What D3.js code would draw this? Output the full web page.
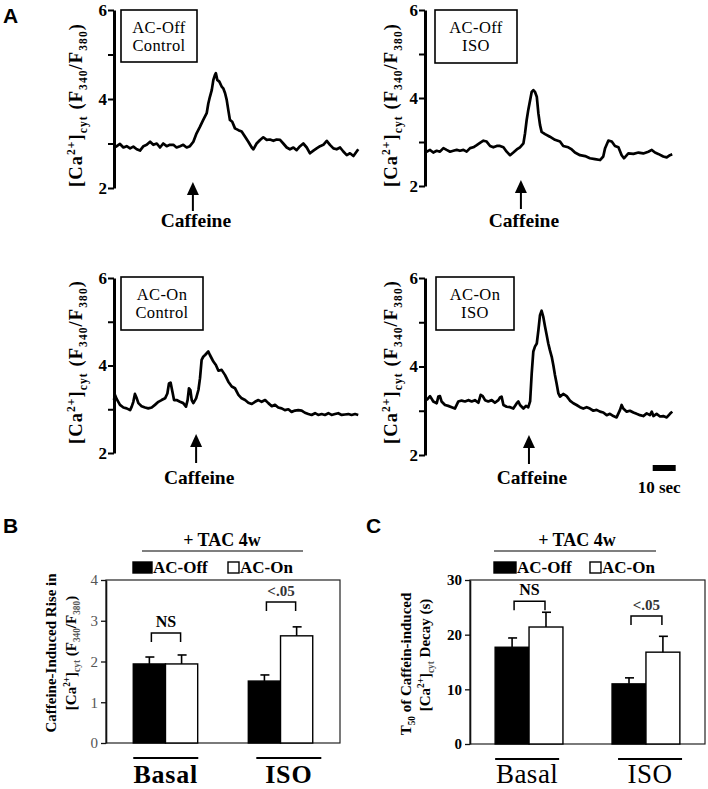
<!DOCTYPE html>
<html><head><meta charset="utf-8">
<script src="https://cdn.jsdelivr.net/npm/d3@7"></script>
<style>body{margin:0;background:#fff}svg{display:block}</style>
</head><body>
<svg id="c" width="708" height="789"></svg>
<script>
// ---------- DATA ----------
// Panel A traces: [time (s), [Ca2+]cyt ratio F340/F380]
const traceOffControl = [[0,2.91],[1.2,2.94],[2.6,2.99],[4.1,2.91],[5.5,2.94],[7.0,2.89],[8.4,2.93],[9.9,2.87],[11.3,2.84],[12.8,2.94],[14.2,2.97],[15.7,3.04],[17.1,2.97],[18.6,3.00],[20.0,2.91],[21.4,3.00],[22.9,2.94],[24.3,2.97],[25.8,2.97],[27.2,2.91],[28.7,2.94],[30.1,2.97],[31.6,2.91],[33.0,2.94],[34.5,3.04],[35.9,3.23],[37.4,3.38],[38.8,3.53],[40.3,3.68],[41.0,3.90],[41.7,4.05],[42.5,4.20],[43.2,4.43],[43.9,4.54],[44.3,4.58],[44.9,4.43],[45.8,4.39],[46.8,4.28],[47.5,4.24],[48.3,4.13],[49.0,3.98],[49.7,3.75],[50.4,3.53],[51.4,3.49],[52.6,3.34],[54.1,3.30],[55.5,3.27],[57.0,3.15],[58.4,3.04],[59.9,2.91],[60.6,2.87],[62.0,3.00],[63.5,3.08],[64.9,3.14],[66.4,3.08],[67.8,3.09],[69.3,3.06],[70.7,3.09],[72.2,3.08],[73.6,3.00],[75.1,2.91],[76.5,2.87],[78.0,2.91],[79.4,2.85],[80.9,2.94],[82.3,3.00],[83.8,2.91],[85.2,2.78],[86.7,2.84],[88.1,2.89],[89.6,2.94],[91.0,2.97],[92.5,3.06],[93.9,2.97],[95.4,2.89],[96.8,2.87],[98.3,2.91],[99.7,2.82],[101.2,2.74],[102.6,2.78],[104.1,2.72],[105.5,2.82],[106.2,2.87]];
const traceOffISO = [[0.7,2.78],[2.2,2.82],[3.6,2.76],[5.1,2.80],[6.5,2.78],[8.0,2.86],[9.4,2.82],[10.9,2.78],[12.3,2.80],[13.8,2.82],[15.2,2.80],[16.7,2.82],[18.1,2.78],[19.6,2.86],[21.0,2.88],[22.5,2.93],[23.9,2.98],[25.4,3.03],[26.8,3.01],[28.3,2.91],[29.7,2.88],[31.2,2.91],[32.6,2.91],[34.1,2.88],[35.5,2.78],[37.0,2.70],[38.4,2.76],[39.9,2.83],[41.3,2.88],[42.8,2.97],[43.5,3.20],[44.2,3.50],[44.9,3.73],[45.7,3.95],[46.4,4.14],[47.1,4.18],[47.8,4.14],[48.6,4.03],[49.3,3.65],[50.0,3.39],[50.7,3.23],[52.2,3.18],[54.3,3.12],[56.5,3.05],[58.7,3.01],[60.1,2.91],[62.3,2.88],[63.8,2.83],[65.2,2.76],[67.4,2.70],[69.6,2.68],[71.7,2.63],[73.9,2.61],[76.1,2.59],[77.5,2.67],[78.3,2.86],[79.7,3.03],[81.2,3.01],[82.6,2.91],[84.1,2.88],[85.5,2.70],[86.5,2.63],[88.4,2.74],[90.6,2.73],[92.8,2.76],[94.9,2.74],[97.1,2.78],[98.6,2.82],[100.0,2.76],[101.4,2.73],[103.6,2.67],[105.1,2.65],[106.5,2.70],[107.5,2.72]];
const traceOnControl = [[0,3.21],[0.4,3.33],[1.2,3.23],[2.6,3.10],[4.1,3.04],[5.5,3.02],[7.0,2.98],[7.7,3.06],[8.4,3.17],[9.1,3.35],[9.9,3.25],[10.6,3.14],[12.0,3.07],[13.5,3.04],[14.9,3.02],[16.4,3.04],[17.8,3.10],[19.3,3.17],[20.7,3.21],[22.2,3.25],[23.2,3.36],[23.9,3.59],[24.6,3.61],[25.4,3.40],[26.1,3.21],[27.2,3.21],[28.7,3.17],[30.1,3.14],[31.3,3.06],[32.0,3.21],[32.6,3.48],[33.2,3.44],[33.8,3.21],[34.5,3.14],[35.7,3.25],[36.7,3.44],[37.4,3.71],[38.1,4.13],[38.8,4.20],[39.6,4.24],[40.3,4.28],[41.0,4.32],[41.7,4.24],[42.5,4.16],[43.2,4.09],[44.3,4.01],[45.4,3.88],[46.8,3.90],[48.3,3.78],[49.7,3.63],[51.2,3.52],[52.6,3.48],[54.1,3.33],[55.5,3.25],[57.0,3.21],[58.4,3.15],[59.9,3.12],[61.3,3.17],[62.8,3.21],[64.2,3.17],[65.7,3.21],[67.1,3.14],[68.6,3.07],[70.0,3.10],[71.4,3.04],[72.9,3.02],[74.3,2.98],[75.8,3.00],[77.2,2.94],[78.7,2.97],[80.1,2.98],[81.6,2.97],[83.0,2.92],[84.5,2.89],[85.9,2.87],[87.4,2.91],[88.8,2.87],[90.3,2.89],[91.7,2.87],[93.2,2.91],[94.6,2.87],[96.1,2.89],[97.5,2.91],[99.0,2.87],[100.4,2.88],[101.9,2.89],[103.3,2.87],[104.8,2.89],[106.2,2.87]];
const traceOnISO = [[0.7,3.24],[2.2,3.33],[3.6,3.21],[5.1,3.17],[5.8,3.32],[6.5,3.33],[7.2,3.21],[8.7,3.13],[10.1,3.11],[11.6,3.08],[13.0,3.05],[14.5,3.21],[15.9,3.23],[17.4,3.21],[18.8,3.24],[20.3,3.21],[21.7,3.24],[23.2,3.18],[24.2,3.36],[25.1,3.33],[26.1,3.24],[27.5,3.21],[29.0,3.24],[30.4,3.18],[31.9,3.24],[32.6,3.30],[33.3,3.32],[34.1,3.13],[35.5,3.09],[37.0,3.08],[38.4,3.05],[39.9,3.17],[40.6,3.21],[41.3,3.13],[42.8,3.05],[43.9,3.11],[44.9,3.08],[45.7,3.21],[46.4,3.85],[47.1,4.34],[47.8,4.45],[48.6,4.52],[49.3,4.82],[50.0,5.16],[50.7,5.26],[51.4,5.13],[52.2,4.90],[52.9,4.71],[53.6,4.52],[54.3,4.37],[55.1,4.22],[55.8,4.03],[56.5,3.81],[57.2,3.62],[58.0,3.39],[58.7,3.32],[60.1,3.38],[61.6,3.33],[63.0,3.23],[64.5,3.17],[65.9,3.13],[67.4,3.08],[68.8,3.05],[70.3,3.08],[71.7,3.05],[73.2,3.00],[74.6,3.02],[76.1,2.98],[77.5,2.96],[79.0,2.90],[80.4,2.93],[81.9,2.88],[83.3,2.85],[84.8,3.02],[85.5,3.13],[86.2,3.05],[87.7,2.98],[89.1,3.00],[90.6,2.96],[92.0,2.93],[93.5,2.90],[94.9,2.88],[96.4,2.94],[97.8,2.90],[98.6,2.98],[99.3,2.88],[100.7,2.93],[102.2,2.87],[103.6,2.88],[105.1,2.85],[106.5,2.93],[107.5,2.98]];
const caffeineTimes = [34.3, 41.7, 35.7, 45.2];
const boxLabels = [["AC-Off","Control"],["AC-Off","ISO"],["AC-On","Control"],["AC-On","ISO"]];
const traceTicks = [2,3,4,5,6];
const traceTickLabels = [2,4,6];
const scaleBarSec = 10;
const scaleBarStart = 99;

// Panels B & C
const groups = ["Basal","ISO"];
const series = ["AC-Off","AC-On"];
const riseOff = [1.94, 1.52];
const riseOn = [1.94, 2.63];
const riseOffErr = [0.17, 0.15];
const riseOnErr = [0.22, 0.22];
const riseBracket = [2.70, 3.46];
const riseTicks = [0,1,2,3,4];
const decayOff = [17.7, 11.0];
const decayOn = [21.4, 16.8];
const decayOffErr = [1.7, 1.1];
const decayOnErr = [2.7, 2.9];
const decayBracket = [26.1, 23.4];
const decayTicks = [0,10,20,30];
const sigLabels = ["NS","<.05"];

// ---------- DRAW ----------
const svg = d3.select("#c");
const SERIF = "'Liberation Serif','Times New Roman',serif";
const SANS = "'Liberation Sans',Arial,sans-serif";

function panelLetter(t, x, y){
  svg.append("text").attr("x",x).attr("y",y).text(t)
    .attr("font-family",SANS).attr("font-weight","bold").attr("font-size",21);
}
panelLetter("A",3,23); panelLetter("B",3,533); panelLetter("C",366,533);

function caLabel(g, fs, parts){
  let cur = 0;
  parts.forEach(([t,k,col])=>{
    const target = k==="sup" ? -fs*0.38 : (k==="sub" ? fs*0.25 : 0);
    const ts = g.append("tspan").text(t).attr("dy", target-cur)
      .attr("font-size", k==="n" ? fs : fs*0.62);
    if(col) ts.attr("fill",col);
    cur = target;
  });
}

const tracePanels = [
  {data:traceOffControl, ax:114, yb:188, yt:10, box:[121,10,76,52], lab:[82,105], cafY:182, cafT:227},
  {data:traceOffISO, ax:425, yb:186, yt:10, box:[435,10,82,53], lab:[397,105], cafY:180, cafT:227},
  {data:traceOnControl, ax:114, yb:453, yt:278, box:[121,277,82,53], lab:[82,362], cafY:434, cafT:484},
  {data:traceOnISO, ax:425, yb:455, yt:278, box:[436,277,78,53], lab:[397,362], cafY:435, cafT:484}
];

tracePanels.forEach((p,i)=>{
  const g = svg.append("g");
  const x = d3.scaleLinear([0,110],[p.ax, p.ax+110*2.3]);
  const y = d3.scaleLinear([2,6],[p.yb,p.yt]);
  const ax = g.append("g").attr("transform",`translate(${p.ax},0)`)
    .call(d3.axisLeft(y).tickValues(traceTicks).tickSize(6).tickSizeOuter(0)
      .tickFormat(d=>traceTickLabels.includes(d)?d:""));
  ax.select(".domain").attr("stroke","#000").attr("stroke-width",3);
  ax.selectAll(".tick line").attr("stroke","#000").attr("stroke-width",2);
  ax.selectAll(".tick text").attr("font-family",SERIF).attr("font-weight","bold")
    .attr("font-size",17).attr("fill","#000").attr("x",-7);
  g.append("path").datum(p.data)
    .attr("d", d3.line().x(d=>x(d[0])).y(d=>y(d[1])))
    .attr("fill","none").attr("stroke","#000").attr("stroke-width",2.7)
    .attr("stroke-linejoin","round");
  const [bx,by,bw,bh] = p.box;
  g.append("rect").attr("x",bx).attr("y",by).attr("width",bw).attr("height",bh)
    .attr("fill","#fff").attr("stroke","#000").attr("stroke-width",1.6);
  boxLabels[i].forEach((t,j)=>{
    g.append("text").attr("x",bx+bw/2).attr("y",by+23+j*18).text(t)
      .attr("text-anchor","middle").attr("font-family",SERIF).attr("font-size",16.5)
      .attr("letter-spacing",0.4);
  });
  const yl = g.append("text").attr("transform",`translate(${p.lab[0]},${p.lab[1]}) rotate(-90)`)
    .attr("text-anchor","middle").attr("font-family",SERIF).attr("font-weight","bold")
    .attr("font-size",18.5).attr("letter-spacing",1.1);
  caLabel(yl,18.5,[["[Ca","n"],["2+","sup"],["]","n"],["cyt","sub"],[" (F","n"],["340","sub"],["/F","n"],["380","sub"],[")","n"]]);
  const cx = x(caffeineTimes[i]);
  g.append("path").attr("d",`M${cx},${p.cafY} L${cx-6},${p.cafY+13} L${cx+6},${p.cafY+13} Z`).attr("fill","#000");
  g.append("line").attr("x1",cx).attr("x2",cx).attr("y1",p.cafY+12).attr("y2",p.cafY+29)
    .attr("stroke","#000").attr("stroke-width",2);
  g.append("text").attr("x",cx+3).attr("y",p.cafT).text("Caffeine")
    .attr("text-anchor","middle").attr("font-family",SERIF).attr("font-weight","bold").attr("font-size",19.5);
  if(i===3){
    g.append("rect").attr("x",x(scaleBarStart)).attr("y",465)
      .attr("width",x(scaleBarStart+scaleBarSec)-x(scaleBarStart)).attr("height",6).attr("fill","#000");
    g.append("text").attr("x",(x(scaleBarStart)+x(scaleBarStart+scaleBarSec))/2-5).attr("y",493)
      .text(scaleBarSec+" sec").attr("text-anchor","middle").attr("font-family",SERIF)
      .attr("font-weight","bold").attr("font-size",17);
  }
});

// ---------- bar panels ----------
function barPanel(c){
  const g = svg.append("g");
  const x = d3.scaleBand(groups,c.xr).paddingInner(c.pi).paddingOuter(c.po);
  const x1 = d3.scaleBand(series,[0,x.bandwidth()]);
  const y = d3.scaleLinear(c.yd,c.yr);
  g.append("rect").attr("x",c.xr[0]).attr("y",c.yr[1]).attr("width",c.xr[1]-c.xr[0])
    .attr("height",c.yr[0]-c.yr[1]).attr("fill","none").attr("stroke","#222").attr("stroke-width",1.2);
  const ax = g.append("g").attr("transform",`translate(${c.xr[0]},0)`)
    .call(d3.axisLeft(y).tickValues(c.ticks).tickSize(5).tickSizeOuter(0).tickFormat(d3.format("d")));
  ax.select(".domain").attr("stroke","#111").attr("stroke-width",1.6);
  ax.selectAll(".tick line").attr("stroke","#111").attr("stroke-width",1.3);
  ax.selectAll(".tick text").attr("font-family",SERIF).attr("font-size",c.tickFs)
    .attr("font-weight",c.tickBold?"bold":"normal").attr("fill",c.tickCol).attr("x",-8);
  groups.forEach((gname,gi)=>{
    const vals = [c.off[gi], c.on[gi]];
    const errs = [c.offErr[gi], c.onErr[gi]];
    series.forEach((s,si)=>{
      const bx = x(gname)+x1(s), bw = x1.bandwidth();
      g.append("rect").attr("x",bx).attr("y",y(vals[si])).attr("width",bw)
        .attr("height",y(0)-y(vals[si])).attr("fill",si===0?"#000":"#fff")
        .attr("stroke","#000").attr("stroke-width",1.4);
      const ex = bx+bw/2;
      g.append("line").attr("x1",ex).attr("x2",ex).attr("y1",y(vals[si])).attr("y2",y(vals[si]+errs[si]))
        .attr("stroke","#000").attr("stroke-width",1.6);
      g.append("line").attr("x1",ex-4).attr("x2",ex+5).attr("y1",y(vals[si]+errs[si])).attr("y2",y(vals[si]+errs[si]))
        .attr("stroke","#000").attr("stroke-width",1.6);
    });
    const b1 = x(gname)+x1("AC-Off")+x1.bandwidth()/2+2;
    const b2 = x(gname)+x1("AC-On")+x1.bandwidth()/2-1;
    const by = y(c.bracket[gi]);
    g.append("path").attr("d",`M${b1},${by+9} V${by} H${b2} V${by+9}`)
      .attr("fill","none").attr("stroke","#000").attr("stroke-width",1.5);
    g.append("text").attr("x",(b1+b2)/2).attr("y",by-6).text(sigLabels[gi])
      .attr("text-anchor","middle").attr("font-family",SERIF).attr("font-weight","bold")
      .attr("font-size",gi===0?16:15).attr("fill",gi===0?"#000":"#333");
    const lx = x(gname)+c.lineShift[gi];
    g.append("line").attr("x1",lx).attr("x2",lx+c.lineW).attr("y1",c.lineY).attr("y2",c.lineY)
      .attr("stroke","#000").attr("stroke-width",2.2);
    g.append("text").attr("x",lx+c.lineW/2).attr("y",783).text(gname)
      .attr("text-anchor","middle").attr("font-family",SERIF)
      .attr("font-weight",c.groupBold?"bold":"normal").attr("font-size",c.groupFs)
      .attr("letter-spacing",c.groupLs);
  });
  g.append("text").attr("x",c.head[0]).attr("y",546).text("+ TAC 4w")
    .attr("text-anchor","middle").attr("font-family",SERIF).attr("font-weight","bold").attr("font-size",18);
  g.append("line").attr("x1",c.head[1]).attr("x2",c.head[2]).attr("y1",551).attr("y2",551)
    .attr("stroke","#000").attr("stroke-width",1.2);
  c.legend.forEach(([lx,lw],si)=>{
    g.append("rect").attr("x",lx).attr("y",562).attr("width",lw).attr("height",11)
      .attr("fill",si===0?"#000":"#fff").attr("stroke","#000").attr("stroke-width",1.4);
    g.append("text").attr("x",lx+lw+1).attr("y",573).text(series[si])
      .attr("font-family",SERIF).attr("font-weight","bold").attr("font-size",17);
  });
  c.ylab.forEach(([tx,ty,parts])=>{
    const t = g.append("text").attr("transform",`translate(${tx},${ty}) rotate(-90)`)
      .attr("text-anchor","middle").attr("font-family",SERIF).attr("font-weight","bold")
      .attr("font-size",c.ylabFs);
    caLabel(t,c.ylabFs,parts);
  });
}

barPanel({
  xr:[106,340], pi:0.44, po:0.237, yd:[0,4], yr:[743,580], ticks:riseTicks,
  tickFs:15, tickBold:false, tickCol:"#555",
  off:riseOff, on:riseOn, offErr:riseOffErr, onErr:riseOnErr, bracket:riseBracket,
  lineShift:[0,8], lineW:65, lineY:758, groupBold:true, groupFs:26, groupLs:0.8,
  head:[222,142,303], legend:[[133,19],[228,11]],
  ylabFs:15,
  ylab:[[56,653,[["Caffeine-Induced Rise in","n"]]],
        [76,653,[["[Ca","n"],["2+","sup"],["]","n"],["cyt","sub","#555"],[" (F","n"],["340","sub","#555"],["/F","n"],["380","sub","#555"],[")","n"]]]]
});
barPanel({
  xr:[470,705], pi:0.42, po:0.215, yd:[0,30], yr:[744,580], ticks:decayTicks,
  tickFs:15, tickBold:true, tickCol:"#000",
  off:decayOff, on:decayOn, offErr:decayOffErr, onErr:decayOnErr, bracket:decayBracket,
  lineShift:[0,6], lineW:64, lineY:759, groupBold:false, groupFs:27, groupLs:0.5,
  head:[577,494,656], legend:[[494,22],[590,11]],
  ylabFs:15,
  ylab:[[411,664,[["T","n"],["50","sub"],[" of Caffein-induced","n"]]],
        [430,655,[["[Ca","n"],["2+","sup"],["]","n"],["cyt","sub","#555"],[" Decay (s)","n"]]]]
});
</script>
</body></html>
